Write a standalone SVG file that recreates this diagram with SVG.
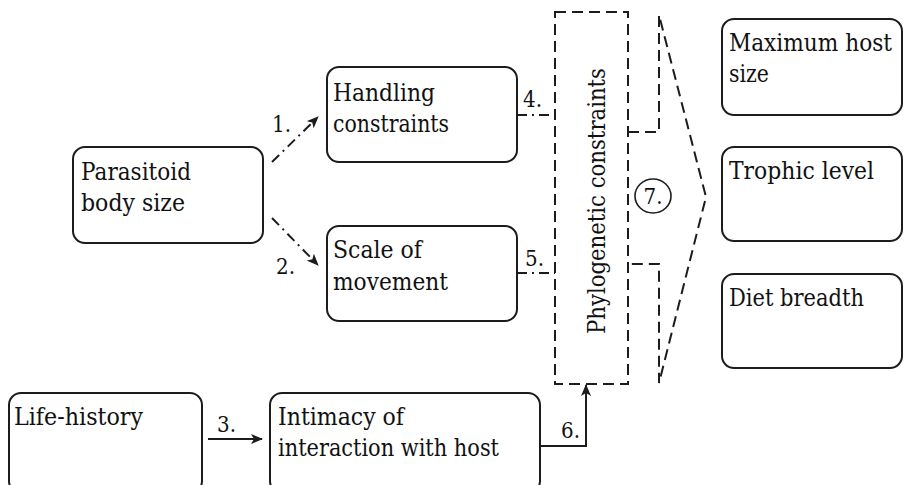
<svg xmlns="http://www.w3.org/2000/svg" width="904" height="485" viewBox="0 0 904 485">
  <style>
    .box { fill: #ffffff; stroke: #1c1c1c; stroke-width: 2; }
    .lbl { font-family: "DejaVu Serif", serif; font-size: 24px; fill: #111111; }
    .num { font-family: "DejaVu Serif", serif; font-size: 22px; fill: #111111; }
    .dashdot { fill: none; stroke: #1c1c1c; stroke-width: 2; stroke-dasharray: 10 5 2 5; }
    .solid { fill: none; stroke: #1c1c1c; stroke-width: 2; }
    .dashed { fill: none; stroke: #1c1c1c; stroke-width: 2; stroke-dasharray: 11 6; }
  </style>
  <defs>
    <marker id="head" viewBox="0 0 12 10" refX="11" refY="5" markerWidth="12" markerHeight="10" markerUnits="userSpaceOnUse" orient="auto">
      <path d="M0,0 L12,5 L0,10 L3,5 Z" fill="#1c1c1c"/>
    </marker>
  </defs>

  <g id="parasitoid-body-size">
    <rect class="box" x="73" y="147" width="190" height="96" rx="12"/>
    <text class="lbl" x="81" y="180" textLength="110" lengthAdjust="spacingAndGlyphs">Parasitoid</text>
    <text class="lbl" x="81" y="211" textLength="104" lengthAdjust="spacingAndGlyphs">body size</text>
  </g>

  <g id="handling-constraints">
    <rect class="box" x="327" y="67" width="190" height="95" rx="12"/>
    <text class="lbl" x="333" y="101" textLength="102" lengthAdjust="spacingAndGlyphs">Handling</text>
    <text class="lbl" x="333" y="132" textLength="116" lengthAdjust="spacingAndGlyphs">constraints</text>
  </g>

  <g id="scale-of-movement">
    <rect class="box" x="327" y="226" width="190" height="95" rx="12"/>
    <text class="lbl" x="333" y="258" textLength="89" lengthAdjust="spacingAndGlyphs">Scale of</text>
    <text class="lbl" x="333" y="290" textLength="115" lengthAdjust="spacingAndGlyphs">movement</text>
  </g>

  <g id="life-history">
    <rect class="box" x="9" y="393" width="193" height="100" rx="12"/>
    <text class="lbl" x="14" y="425" textLength="129" lengthAdjust="spacingAndGlyphs">Life-history</text>
  </g>

  <g id="intimacy">
    <rect class="box" x="270" y="393" width="270" height="100" rx="12"/>
    <text class="lbl" x="278" y="425" textLength="126" lengthAdjust="spacingAndGlyphs">Intimacy of</text>
    <text class="lbl" x="278" y="456" textLength="221" lengthAdjust="spacingAndGlyphs">interaction with host</text>
  </g>

  <g id="phylogenetic-constraints">
    <rect class="dashed" x="555" y="12" width="73" height="372"/>
    <text class="lbl" transform="translate(605,201) rotate(-90)" text-anchor="middle" textLength="266" lengthAdjust="spacingAndGlyphs">Phylogenetic constraints</text>
  </g>

  <g id="outcome-arrow">
    <path class="dashed" d="M628,132 H659 V15 L706,197 L659,383 V264 H628"/>
    <ellipse cx="653" cy="196" rx="18" ry="17" fill="none" stroke="#1c1c1c" stroke-width="1.6"/>
    <text class="num" x="653" y="204" text-anchor="middle" textLength="19" lengthAdjust="spacingAndGlyphs">7.</text>
  </g>

  <g id="maximum-host-size">
    <rect class="box" x="722" y="19" width="180" height="96" rx="12"/>
    <text class="lbl" x="729" y="51" font-size="22" textLength="163" lengthAdjust="spacingAndGlyphs">Maximum host</text>
    <text class="lbl" x="729" y="82" textLength="40" lengthAdjust="spacingAndGlyphs">size</text>
  </g>

  <g id="trophic-level">
    <rect class="box" x="722" y="147" width="180" height="94" rx="12"/>
    <text class="lbl" x="729" y="179" textLength="145" lengthAdjust="spacingAndGlyphs">Trophic level</text>
  </g>

  <g id="diet-breadth">
    <rect class="box" x="722" y="274" width="180" height="94" rx="12"/>
    <text class="lbl" x="729" y="306" textLength="135" lengthAdjust="spacingAndGlyphs">Diet breadth</text>
  </g>

  <g id="connectors">
    <path class="dashdot" d="M272,162 L318,117" marker-end="url(#head)"/>
    <path class="dashdot" d="M272,218 L318,265" marker-end="url(#head)"/>
    <path class="solid" d="M208,439 L262,439" marker-end="url(#head)"/>
    <path class="dashdot" d="M517,115 H555"/>
    <path class="dashdot" d="M517,273 H555"/>
    <path class="solid" d="M540,446 H586 V385" marker-end="url(#head)"/>
    <text class="num" x="272" y="132" textLength="19" lengthAdjust="spacingAndGlyphs">1.</text>
    <text class="num" x="276" y="274" textLength="19" lengthAdjust="spacingAndGlyphs">2.</text>
    <text class="num" x="217" y="432" textLength="19" lengthAdjust="spacingAndGlyphs">3.</text>
    <text class="num" x="523" y="107" textLength="19" lengthAdjust="spacingAndGlyphs">4.</text>
    <text class="num" x="525" y="266" textLength="19" lengthAdjust="spacingAndGlyphs">5.</text>
    <text class="num" x="561" y="438" textLength="19" lengthAdjust="spacingAndGlyphs">6.</text>
  </g>
</svg>
